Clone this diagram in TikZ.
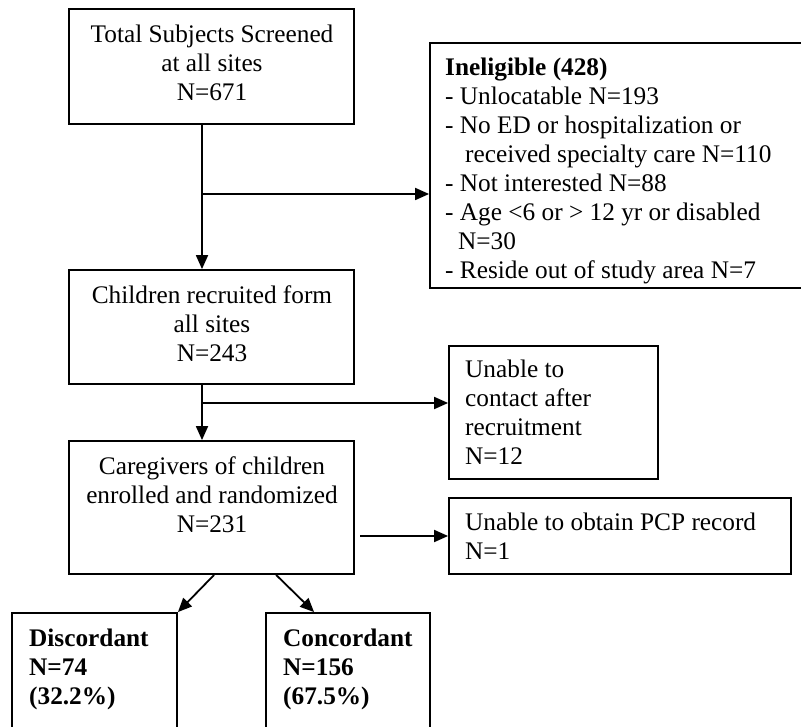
\documentclass[tikz,border=0pt]{standalone}
\usepackage{fontspec}
\setmainfont{Liberation Serif}
\usetikzlibrary{arrows.meta}
\begin{document}
\begin{tikzpicture}[x=1pt,y=-1pt,
  box/.style={draw=black, line width=1.8pt, rectangle, inner sep=0pt},
  txt/.style={inner sep=0pt, font=\fontsize{25.3}{29}\selectfont},
  arr/.style={line width=1.8pt, -{Triangle[length=14pt,width=12pt]}}]
\useasboundingbox (0,0) rectangle (801,727);
% boxes
\node[box, minimum width=285pt, minimum height=115pt] (b1) at (211.5,66.5) {};
\node[box, minimum width=285pt, minimum height=114pt] (b2) at (211.5,327) {};
\node[box, minimum width=285pt, minimum height=133pt] (b3) at (211.5,507.5) {};
\node[box, minimum width=400pt, minimum height=245pt] (inel) at (630,165.5) {};
\node[box, minimum width=209pt, minimum height=133pt] (unab) at (553.5,412.5) {};
\node[box, minimum width=342pt, minimum height=76pt] (pcp) at (620,536) {};
\node[box, minimum width=165pt, minimum height=130pt] (disc) at (94.5,678) {};
\node[box, minimum width=164pt, minimum height=130pt] (conc) at (348,678) {};
% texts
\node[txt, anchor=north, align=center] (t1) at (212,25) {Total Subjects Screened\\at all sites\\N=671};
\node[txt, anchor=north, align=center] (t2) at (212,285) {Children recruited form\\all sites\\N=243};
\node[txt, anchor=north, align=center] (t3) at (212,456) {Caregivers of children\\enrolled and randomized\\N=231};
\node[txt, anchor=north west, align=left] (tinel) at (445,58) {\textbf{Ineligible (428)}\\- Unlocatable N=193\\- No ED or hospitalization or\\\hspace*{20pt}received specialty care N=110\\- Not interested N=88\\- Age <6 or > 12 yr or disabled\\\hspace*{13pt}N=30\\- Reside out of study area N=7};
\node[txt, anchor=north west, align=left] (tunab) at (465,360) {Unable to\\contact after\\recruitment\\N=12};
\node[txt, anchor=north west, align=left] (tpcp) at (465,513) {Unable to obtain PCP record\\N=1};
\node[txt, anchor=north west, align=left, font=\fontsize{25.3}{29}\selectfont\bfseries] (tdisc) at (29,629) {Discordant\\N=74\\(32.2\%)};
\node[txt, anchor=north west, align=left, font=\fontsize{25.3}{29}\selectfont\bfseries] (tconc) at (283,629) {Concordant\\N=156\\(67.5\%)};
% connectors
\coordinate (j1) at (202,194);
\coordinate (j2) at (202,403);
\coordinate (j3) at (360,536);
\draw[arr] (b1.south -| j1) -- (b2.north -| j1);
\draw[arr] (j1) -- (inel.west |- j1);
\draw[arr] (b2.south -| j2) -- (b3.north -| j2);
\draw[arr] (j2) -- (unab.west |- j2);
\draw[arr] (j3) -- (pcp.west |- j3);
\draw[arr] ([xshift=146pt]b3.south west) -- (disc.north east);
\draw[arr] ([xshift=208pt]b3.south west) -- ([xshift=49pt]conc.north west);
\end{tikzpicture}
\end{document}
